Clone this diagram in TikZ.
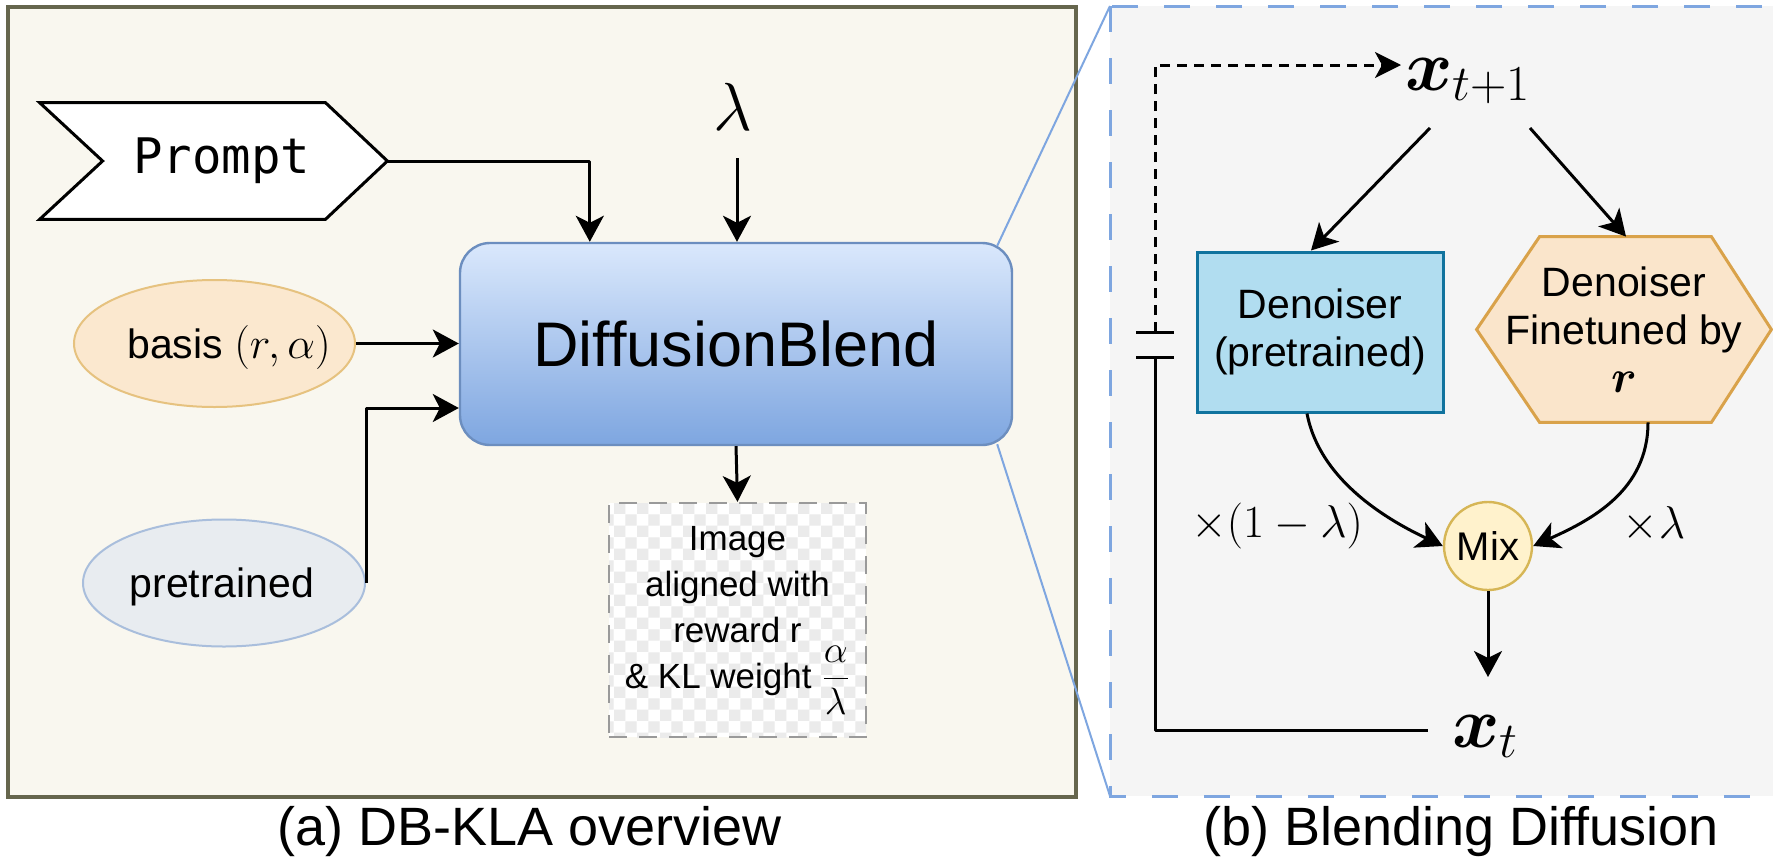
\RequirePackage{fix-cm}
\documentclass[tikz,border=0pt]{standalone}
\usepackage{amsmath}
\usepackage[no-math]{fontspec}
\setmainfont{Liberation Sans}
\newfontfamily\promptfont{DejaVu Sans Mono}
\usetikzlibrary{arrows.meta,patterns,calc,shapes.geometric}
\pgfdeclarelayer{bglayer}
\pgfdeclarelayer{shapelayer}
\pgfsetlayers{bglayer,shapelayer,main}
\definecolor{panelA}{HTML}{F9F7EF}
\definecolor{panelAborder}{HTML}{66664D}
\definecolor{panelB}{HTML}{F5F5F5}
\definecolor{blueline}{HTML}{7EA6E0}
\definecolor{dbtop}{HTML}{DAE8FC}
\definecolor{dbbot}{HTML}{7EA6E0}
\definecolor{dbborder}{HTML}{6C8EBF}
\definecolor{basisfill}{HTML}{FBE8CF}
\definecolor{basisdraw}{HTML}{E6C27F}
\definecolor{pretfill}{HTML}{E8ECF0}
\definecolor{pretdraw}{HTML}{A9BEDC}
\definecolor{denfill}{HTML}{B1DDF0}
\definecolor{dendraw}{HTML}{10739E}
\definecolor{hexfill}{HTML}{FAE5CB}
\definecolor{hexdraw}{HTML}{D9A24A}
\definecolor{mixfill}{HTML}{FFF2CC}
\definecolor{mixdraw}{HTML}{D6B656}
\definecolor{imgdraw}{HTML}{9A9A9A}
\tikzset{
  ln/.style={line width=1.5pt, black, line join=round},
  arr/.style={ln, -{Stealth[length=13pt,width=14pt,inset=3.5pt]}},
  dasharr/.style={ln, dash pattern=on 5pt off 3.5pt, -{Stealth[length=13pt,width=13pt,inset=3.5pt]}},
  zoomline/.style={draw=blueline, line width=1pt},
  txt/.style={inner sep=0, font=\fontsize{20.5}{24}\selectfont},
  bigmath/.style={inner sep=0, font=\fontsize{36}{40}\selectfont},
  captxt/.style={inner sep=0, anchor=base, font=\fontsize{27}{32}\selectfont},
}
\begin{document}
\begin{tikzpicture}[x=0.5pt,y=-0.5pt]
\useasboundingbox (0,0) rectangle (1773,857);
\begin{pgfonlayer}{bglayer}
  \fill[white] (0,0) rectangle (1773,857);
  \draw[draw=panelAborder, fill=panelA, line width=1.6pt] (8,7) rectangle (1076,797);
  \draw[draw=blueline, fill=panelB, line width=1.5pt, dash pattern=on 13pt off 13pt] (1110,6) rectangle (1790,796);
\end{pgfonlayer}

% ---------- (a) ----------
\node[inner sep=0, minimum width=173.5pt, minimum height=58pt, font=\promptfont\fontsize{24.5}{28}\selectfont] (prompt) at (213.5,161) {\hspace*{8.5pt}Prompt};
\begin{pgfonlayer}{shapelayer}
  \draw[black, line width=1.5pt, fill=white, line join=miter]
    (prompt.north west) -- ($(prompt.north east)+(-62,0)$) -- (prompt.east)
    -- ($(prompt.south east)+(-62,0)$) -- (prompt.south west) -- ($(prompt.west)+(63,0)$) -- cycle;
\end{pgfonlayer}

\node[anchor=base, inner sep=0, font=\fontsize{34}{38}\selectfont] (lam) at (733,130) {$\lambda$};

\node[draw=dbborder, line width=1.2pt, top color=dbtop, bottom color=dbbot, rounded corners=15pt,
      minimum width=276pt, minimum height=101pt, inner sep=0, font=\fontsize{31.5}{36}\selectfont]
      (db) at (736,344) {DiffusionBlend};

\node[ellipse, draw=basisdraw, fill=basisfill, line width=1pt, minimum width=140.5pt, minimum height=63.5pt, inner sep=0] (basis) at (214.5,343.5) {};
\node[txt, anchor=base] (basislbl) at (229,358) {basis {\fontsize{22}{24}\selectfont$(r,\alpha)$}};

\node[ellipse, draw=pretdraw, fill=pretfill, line width=1pt, minimum width=141pt, minimum height=63.5pt, inner sep=0] (pret) at (224,583) {};
\node[txt, anchor=base] (pretlbl) at (222,597) {pretrained};

\node[draw=imgdraw, line width=1.2pt, dash pattern=on 9pt off 6pt, preaction={fill=white},
      pattern=checkerboard, pattern color=black!8, minimum width=128.5pt, minimum height=117pt,
      inner sep=0, align=center, font=\fontsize{17.5}{23}\selectfont]
      (img) at (737.5,620) {Image\\aligned with\\reward r\\\& KL weight {\fontsize{19}{23}\selectfont$\dfrac{\alpha}{\lambda}$}};

\draw[arr] (prompt.east) -| ($(db.north west)+(131,0)$);
\draw[arr] ($(lam.base)+(4,28)$) -- ($(db.north)+(1,0)$);
\draw[arr] (basis.east) -- (basis.east -| db.west);
\draw[arr] (pret.east) |- ($(db.west)+(0,64)$);
\draw[arr] (db.south) -- (img.north);

% ---------- zoom lines ----------
\coordinate (pbtl) at (1110,6);
\coordinate (pbbl) at (1110,796);
\draw[zoomline] ($(db.north east)+(-16,4)$) -- (pbtl);
\draw[zoomline] ($(db.south east)+(-16,-2)$) -- (pbbl);

% ---------- (b) ----------
\node[draw=dendraw, fill=denfill, line width=1.5pt, minimum width=123pt, minimum height=80pt,
      inner sep=0, align=center, font=\fontsize{20.5}{24}\selectfont] (den) at (1320,332) {Denoiser\\(pretrained)};

\node[minimum width=147pt, minimum height=92.5pt, inner sep=0, align=center, font=\fontsize{20.5}{24}\selectfont]
      (hex) at (1624,329.5) {Denoiser\\Finetuned by\\{\fontsize{23}{24}\selectfont$\boldsymbol{r}$}};
\begin{pgfonlayer}{shapelayer}
  \draw[draw=hexdraw, fill=hexfill, line width=1.5pt]
    (hex.west) -- ($(hex.north west)+(63,0)$) -- ($(hex.north east)+(-60,0)$) -- (hex.east)
    -- ($(hex.south east)+(-60,0)$) -- ($(hex.south west)+(63,0)$) -- cycle;
\end{pgfonlayer}

\node[circle, draw=mixdraw, fill=mixfill, line width=1.2pt, minimum size=44pt, inner sep=0,
      font=\fontsize{20}{24}\selectfont] (mix) at (1488,546) {Mix};

\node[bigmath, anchor=base west] (xt1) at (1405,90) {$\boldsymbol{x}_{t+1}$};
\node[bigmath, anchor=base west] (xt) at (1452,747) {$\boldsymbol{x}_t$};

\node[anchor=base, inner sep=0, font=\fontsize{23}{28}\selectfont] (w1) at (1277,537) {$\times(1-\lambda)$};
\node[anchor=base, inner sep=0, font=\fontsize{23}{28}\selectfont] (w2) at (1654,538) {$\times\lambda$};

\coordinate (cap1) at (1155,332);
\coordinate (cap2) at (1155,357);
\draw[ln] ($(cap1)+(-19,0)$) -- ($(cap1)+(19,0)$);
\draw[ln] ($(cap2)+(-19,0)$) -- ($(cap2)+(19,0)$);
\draw[dasharr] (cap1) |- ($(xt1.base west)+(-4,-25)$);
\draw[ln] (cap2) |- ($(xt.base west)+(-24,-17)$);

\draw[arr] ($(xt1.base west)+(25,38)$) -- ($(den.north)+(-9,0)$);
\draw[arr] ($(xt1.base west)+(125,38)$) -- ($(hex.north)+(2,0)$);
\draw[arr] ($(den.south)+(-13,0)$) .. controls +(13,68) and +(-53,-25) .. (mix.west);
\draw[arr] ($(hex.south)+(24,0)$) .. controls +(0,68) and +(58,-26) .. (mix.east);
\draw[arr] (mix.south) -- ($(xt.base west)+(36,-70)$);

% ---------- captions ----------
\node[captxt] (capa) at (530,845) {(a) DB-KLA overview};
\node[captxt] (capb) at (1461,845) {(b) Blending Diffusion};
\end{tikzpicture}
\end{document}
